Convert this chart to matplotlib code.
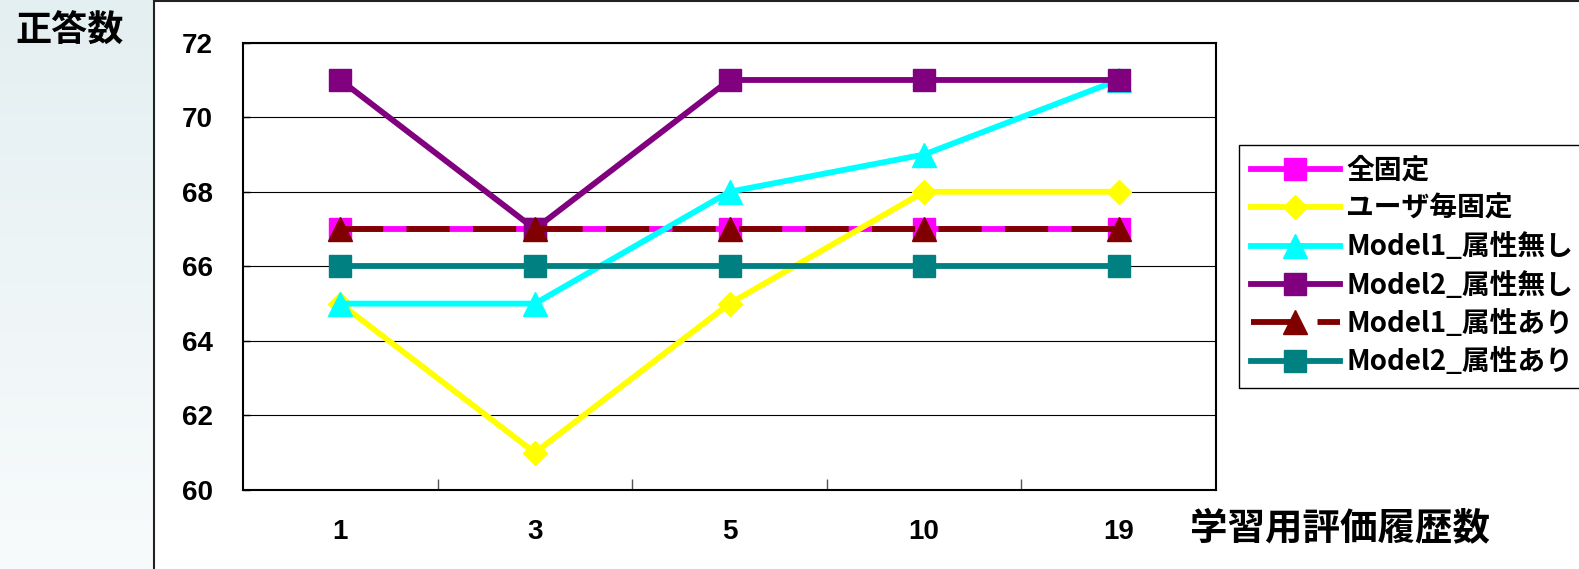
import numpy as np
import matplotlib
matplotlib.use('Agg')
import matplotlib.pyplot as plt
from matplotlib.patches import Rectangle

plt.rcParams['font.family'] = ['Noto Sans CJK JP', 'DejaVu Sans']

# data
history = ['1', '3', '5', '10', '19']
all_fixed = [67, 67, 67, 67, 67]
user_fixed = [65, 61, 65, 68, 68]
m1_none = [65, 65, 68, 69, 71]
m2_none = [71, 67, 71, 71, 71]
m1_attr = [67, 67, 67, 67, 67]
m2_attr = [66, 66, 66, 66, 66]
yticks = [60, 62, 64, 66, 68, 70, 72]

W, H = 1579, 569
fig = plt.figure(figsize=(W / 100, H / 100), dpi=100)
fig.patch.set_facecolor('white')

# pale background strip on the left (slide background)
bg = fig.add_axes([0, 0, 154 / W, 1])
grad = np.linspace(0, 1, 256).reshape(-1, 1)
bg.imshow(grad, aspect='auto', cmap=matplotlib.colors.LinearSegmentedColormap.from_list(
    'bg', ['#e4eff1', '#f8fbfc']), extent=[0, 1, 0, 1], origin='upper')
bg.axis('off')

# chart area frame
fig.add_artist(Rectangle((154 / W, -0.1), 1.0, 1.1 - 1.5 / H, transform=fig.transFigure,
                         facecolor='white', edgecolor='#222222', lw=1.5, zorder=0.5))

ax = fig.add_axes([243 / W, 1 - 490 / H, (1216 - 243) / W, (490 - 42.7) / H])
ax.set_zorder(1)
x = np.arange(len(history))

lw = 4.2
ax.plot(x, all_fixed, color='#FF00FF', lw=lw, marker='s', ms=16, mew=1, label='全固定')
ax.plot(x, user_fixed, color='#FFFF00', lw=lw, marker='D', ms=12.5, mew=1, label='ユーザ毎固定')
ax.plot(x, m1_none, color='#00FFFF', lw=lw, marker='^', ms=17, mew=1, label='Model1_属性無し')
ax.plot(x, m2_none, color='#800080', lw=lw, marker='s', ms=16, mew=1, label='Model2_属性無し')
ax.plot(x, m1_attr, color='#800000', lw=lw, marker='^', ms=17, mew=1, dashes=(7.4, 4.0),
        label='Model1_属性あり')
ax.plot(x, m2_attr, color='#008080', lw=lw, marker='s', ms=16, mew=1, label='Model2_属性あり')

ax.set_xlim(-0.5, len(history) - 0.5)
ax.set_ylim(60, 72)
ax.yaxis.grid(True, color='black', lw=0.8)
ax.set_axisbelow(True)

tick_font = dict(fontsize=20, fontweight='bold', family=['Liberation Sans', 'DejaVu Sans'])
ax.set_yticks(yticks)
ax.set_yticklabels([str(v) for v in yticks], **tick_font)
ax.set_xticks(x)
ax.set_xticklabels(history, **tick_font)
ax.set_xticks(x[:-1] + 0.5, minor=True)
ax.tick_params(axis='x', which='major', length=0, pad=21)
ax.tick_params(axis='x', which='minor', direction='in', length=8, width=1, color='#555555')
ax.tick_params(axis='y', direction='in', length=5, width=1, pad=21.5)
for s in ax.spines.values():
    s.set_linewidth(1.5)
    s.set_color('black')

fig.text(15 / W, 1 - 31 / H, '正答数', ha='left', va='center', fontsize=26, fontweight='bold')
fig.text(1190 / W, 1 - 528 / H, '学習用評価履歴数', ha='left', va='center', fontsize=27,
         fontweight='bold')

leg = ax.legend(loc='upper left', bbox_to_anchor=(1239 / W, 1 - 145 / H),
                bbox_transform=fig.transFigure, borderaxespad=0,
                prop={'weight': 'bold', 'size': 20}, frameon=True, fancybox=False,
                framealpha=1, edgecolor='black', handlelength=3.2, handletextpad=0.25,
                labelspacing=0.37, borderpad=0.42)
leg.get_frame().set_linewidth(1.0)

fig.savefig('out.png', dpi=100)
